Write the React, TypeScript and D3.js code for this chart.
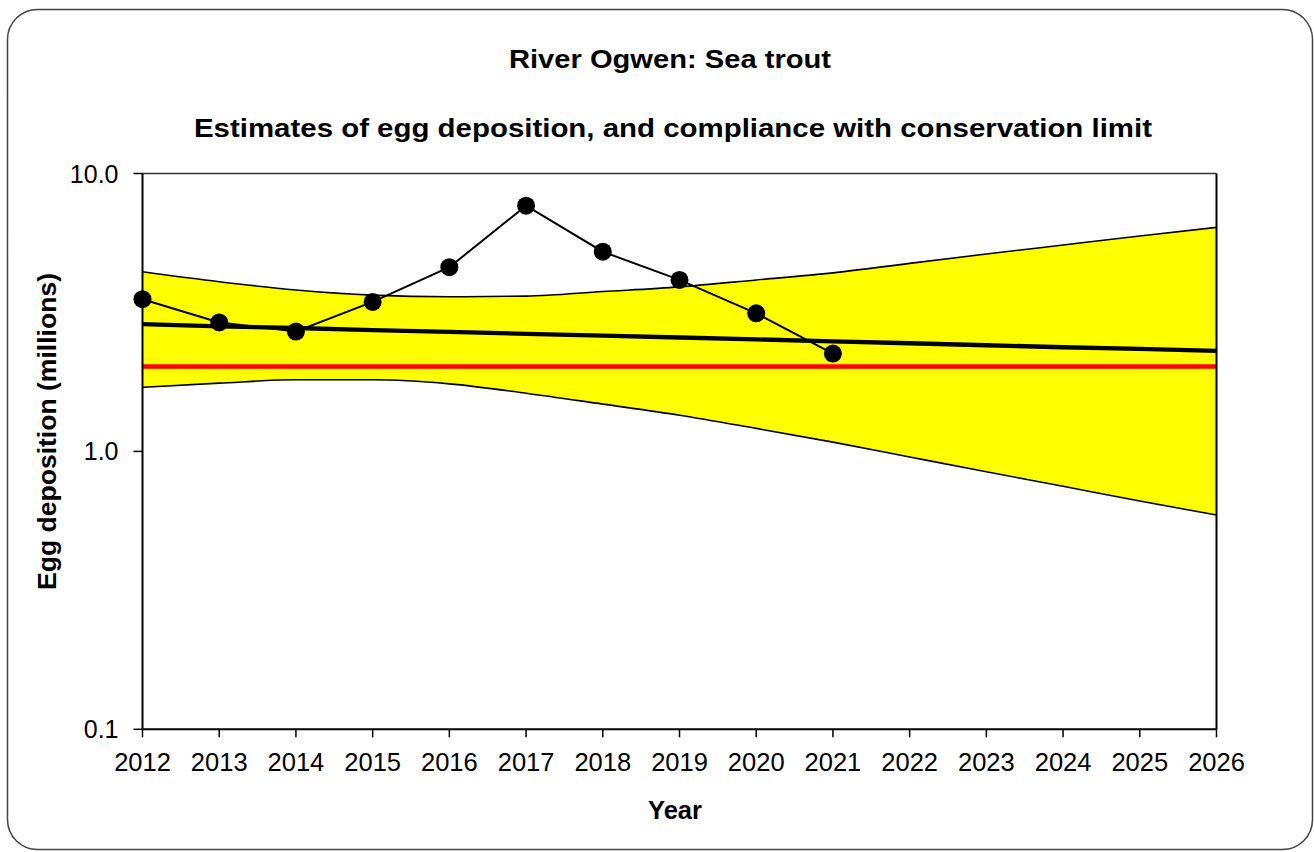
import React from "react";
import * as d3 from "d3";

const years = [2012, 2013, 2014, 2015, 2016, 2017, 2018, 2019, 2020, 2021, 2022, 2023, 2024, 2025, 2026];
const obsYears = [2012, 2013, 2014, 2015, 2016, 2017, 2018, 2019, 2020, 2021];
const eggDeposition = [3.53, 2.91, 2.7, 3.45, 4.6, 7.66, 5.23, 4.14, 3.14, 2.25];
const trend = [2.87, 2.82, 2.78, 2.73, 2.69, 2.65, 2.61, 2.57, 2.53, 2.49, 2.45, 2.41, 2.37, 2.34, 2.3];
const upperCI = [4.43, 4.08, 3.81, 3.65, 3.6, 3.62, 3.76, 3.91, 4.14, 4.39, 4.75, 5.13, 5.53, 5.96, 6.4];
const lowerCI = [1.7, 1.76, 1.81, 1.81, 1.75, 1.62, 1.48, 1.35, 1.21, 1.08, 0.955, 0.845, 0.749, 0.663, 0.59];
const conservationLimit = 2.02;
const yTicks = [0.1, 1, 10];
const yTickLabels = ["0.1", "1.0", "10.0"];

const FONT = "'Liberation Sans', Arial, sans-serif";

export default function App() {
  const W = 1314, H = 852;
  const left = 142.5, right = 1216.5, top = 173.5, bottom = 729.3;
  const x = d3.scaleLinear().domain([2012, 2026]).range([left, right]);
  const y = d3.scaleLog().domain([0.1, 10]).range([bottom, top]);

  const area = d3.area<number>()
    .x((_, i) => x(years[i]))
    .y0((_, i) => y(lowerCI[i]))
    .y1((d) => y(d))
    .curve(d3.curveMonotoneX);
  const edge = (arr: number[]) =>
    d3.line<number>().x((_, i) => x(years[i])).y((d) => y(d)).curve(d3.curveMonotoneX)(arr) || "";
  const trendPath = d3.line<number>().x((_, i) => x(years[i])).y((d) => y(d))(trend) || "";
  const obsPath = d3.line<number>().x((_, i) => x(obsYears[i])).y((d) => y(d))(eggDeposition) || "";

  return (
    <svg width={W} height={H} style={{ position: "absolute", left: 0, top: 0, background: "#fff" }} fontFamily={FONT}>
      <rect x={7.5} y={9.5} width={1305} height={840} rx={30} ry={30} fill="#fff" stroke="#444" strokeWidth={1.5} />
      <text x={670} y={67.5} textAnchor="middle" fontSize={25} fontWeight="bold" textLength={322} lengthAdjust="spacingAndGlyphs">River Ogwen: Sea trout</text>
      <text x={673} y={136.5} textAnchor="middle" fontSize={25} fontWeight="bold" textLength={958} lengthAdjust="spacingAndGlyphs">Estimates of egg deposition, and compliance with conservation limit</text>

      <path d={area(upperCI) || ""} fill="#ffff00" />
      <path d={edge(upperCI)} fill="none" stroke="#000" strokeWidth={1.6} />
      <path d={edge(lowerCI)} fill="none" stroke="#000" strokeWidth={1.6} />
      <path d={trendPath} fill="none" stroke="#000" strokeWidth={4.3} />
      <line x1={left} x2={right} y1={y(conservationLimit)} y2={y(conservationLimit)} stroke="#ff0000" strokeWidth={4.5} />
      <path d={obsPath} fill="none" stroke="#000" strokeWidth={2} />
      {eggDeposition.map((v, i) => (
        <circle key={i} cx={x(obsYears[i])} cy={y(v)} r={9} fill="#000" />
      ))}

      <line x1={left} x2={right} y1={top} y2={top} stroke="#333" strokeWidth={1.5} />
      <line x1={right} x2={right} y1={top} y2={bottom} stroke="#000" strokeWidth={2} />
      <line x1={left} x2={left} y1={top} y2={bottom} stroke="#000" strokeWidth={2} />
      <line x1={left} x2={right} y1={bottom} y2={bottom} stroke="#000" strokeWidth={2} />

      {yTicks.map((t, i) => (
        <g key={t}>
          <line x1={left - 9} x2={left} y1={y(t)} y2={y(t)} stroke="#000" strokeWidth={1.5} />
          <text x={left - 24} y={y(t)} dy="0.36em" textAnchor="end" fontSize={25} fill="#000">{yTickLabels[i]}</text>
        </g>
      ))}
      {years.map((yr) => (
        <g key={yr}>
          <line x1={x(yr)} x2={x(yr)} y1={bottom} y2={bottom + 8} stroke="#000" strokeWidth={1.5} />
          <text x={x(yr)} y={770.5} textAnchor="middle" fontSize={25.5} fill="#000">{yr}</text>
        </g>
      ))}

      <text x={675} y={819.3} textAnchor="middle" fontSize={25.5} fontWeight="bold">Year</text>
      <text transform={`translate(56,431.5) rotate(-90)`} textAnchor="middle" fontSize={25} fontWeight="bold" textLength={317} lengthAdjust="spacingAndGlyphs">Egg deposition (millions)</text>
    </svg>
  );
}
